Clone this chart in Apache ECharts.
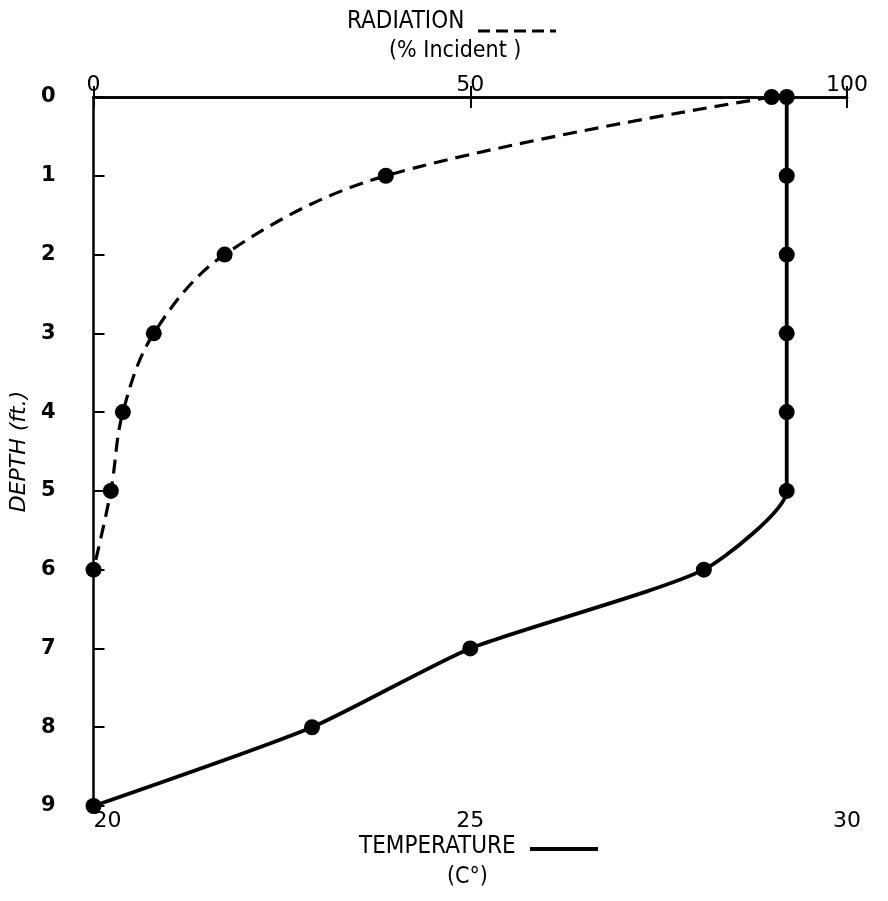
<!DOCTYPE html>
<html>
<head>
<meta charset="utf-8">
<script src="https://cdn.jsdelivr.net/npm/echarts@6/dist/echarts.min.js"></script>
<style>html,body{margin:0;padding:0;background:#fff}#c{width:888px;height:901px}</style>
</head>
<body>
<div id="c"></div>
<script>
// Depth (ft) for each measurement
const depths = [0, 1, 2, 3, 4, 5, 6, 7, 8, 9];
// Radiation (% incident) at depths 0..6
const radiationDepths = [0, 1, 2, 3, 4, 5, 6];
const radiationValues = [90, 38.8, 17.4, 8, 3.9, 2.3, 0];
// Temperature (C) at depths 0..9
const temperatureValues = [29.2, 29.2, 29.2, 29.2, 29.2, 29.2, 28.1, 25.0, 22.9, 20.0];
// Axis ticks
const radiationTicks = [0, 50, 100];
const temperatureTicks = [20, 25, 30];
const depthTicks = [0, 1, 2, 3, 4, 5, 6, 7, 8, 9];

const chart = echarts.init(document.getElementById('c'));
const FONT = 'DejaVu Sans';
const COND = '"DejaVu Sans Condensed"';
const black = '#000';

const radData = radiationDepths.map((d, i) => [radiationValues[i], d]);
const tempData = depths.map((d, i) => [temperatureValues[i], d]);

chart.setOption({
  animation: false,
  backgroundColor: '#fff',
  grid: { left: 93, right: 41, top: 97, bottom: 95, containLabel: false },
  xAxis: [
    {
      type: 'value', position: 'bottom',
      min: temperatureTicks[0], max: temperatureTicks[temperatureTicks.length - 1], interval: 5,
      axisLine: { show: true, lineStyle: { color: black, width: 2.5 } },
      axisTick: { show: true, inside: true, length: 11, lineStyle: { color: black, width: 2 } },
      splitLine: { show: false },
      axisLabel: { color: black, fontFamily: FONT, fontSize: 22, margin: 4, alignMinLabel: 'left' }
    },
    {
      type: 'value', position: 'top',
      min: radiationTicks[0], max: radiationTicks[radiationTicks.length - 1], interval: 50,
      axisLine: { show: true, lineStyle: { color: black, width: 2.5 } },
      axisTick: { show: true, inside: true, length: 11, lineStyle: { color: black, width: 2 } },
      splitLine: { show: false },
      axisLabel: { color: black, fontFamily: FONT, fontSize: 22, margin: 1 }
    }
  ],
  yAxis: {
    type: 'value', inverse: true,
    min: depthTicks[0], max: depthTicks[depthTicks.length - 1], interval: 1,
    axisLine: { show: true, lineStyle: { color: black, width: 2.5 } },
    axisTick: { show: true, inside: true, length: 11, lineStyle: { color: black, width: 2 } },
    splitLine: { show: false },
    axisLabel: { color: black, fontFamily: FONT, fontSize: 21, fontWeight: 'bold', margin: 38 },
    name: 'DEPTH (ft.)', nameLocation: 'middle', nameGap: 52, nameRotate: 90,
    nameTextStyle: { color: black, fontFamily: FONT, fontSize: 22, fontStyle: 'italic' }
  },
  series: [
    {
      name: 'Radiation', type: 'line', xAxisIndex: 1, data: radData,
      smooth: 0.35,
      symbol: 'circle', symbolSize: 16,
      itemStyle: { color: black },
      lineStyle: { color: black, width: 3.2, type: [14, 8] }
    },
    {
      name: 'Temperature', type: 'line', xAxisIndex: 0, data: tempData,
      smooth: 0.2,
      symbol: 'circle', symbolSize: 16,
      itemStyle: { color: black },
      lineStyle: { color: black, width: 3.8 }
    }
  ],
  graphic: [
    { type: 'text', left: 347, top: 10, style: { text: 'RADIATION', font: '24px ' + COND, fill: black } },
    { type: 'line', shape: { x1: 478, y1: 31, x2: 556, y2: 31 }, style: { stroke: black, lineWidth: 3, lineDash: [12, 6] } },
    { type: 'text', left: 389, top: 40, style: { text: '(% Incident )', font: '23px ' + COND, fill: black } },
    { type: 'text', left: 359, top: 835, style: { text: 'TEMPERATURE', font: '24px ' + COND, fill: black } },
    { type: 'line', shape: { x1: 530, y1: 849, x2: 598, y2: 849 }, style: { stroke: black, lineWidth: 4 } },
    { type: 'text', left: 447, top: 866, style: { text: '(C°)', font: '23px ' + COND, fill: black } }
  ]
});
</script>
</body>
</html>
